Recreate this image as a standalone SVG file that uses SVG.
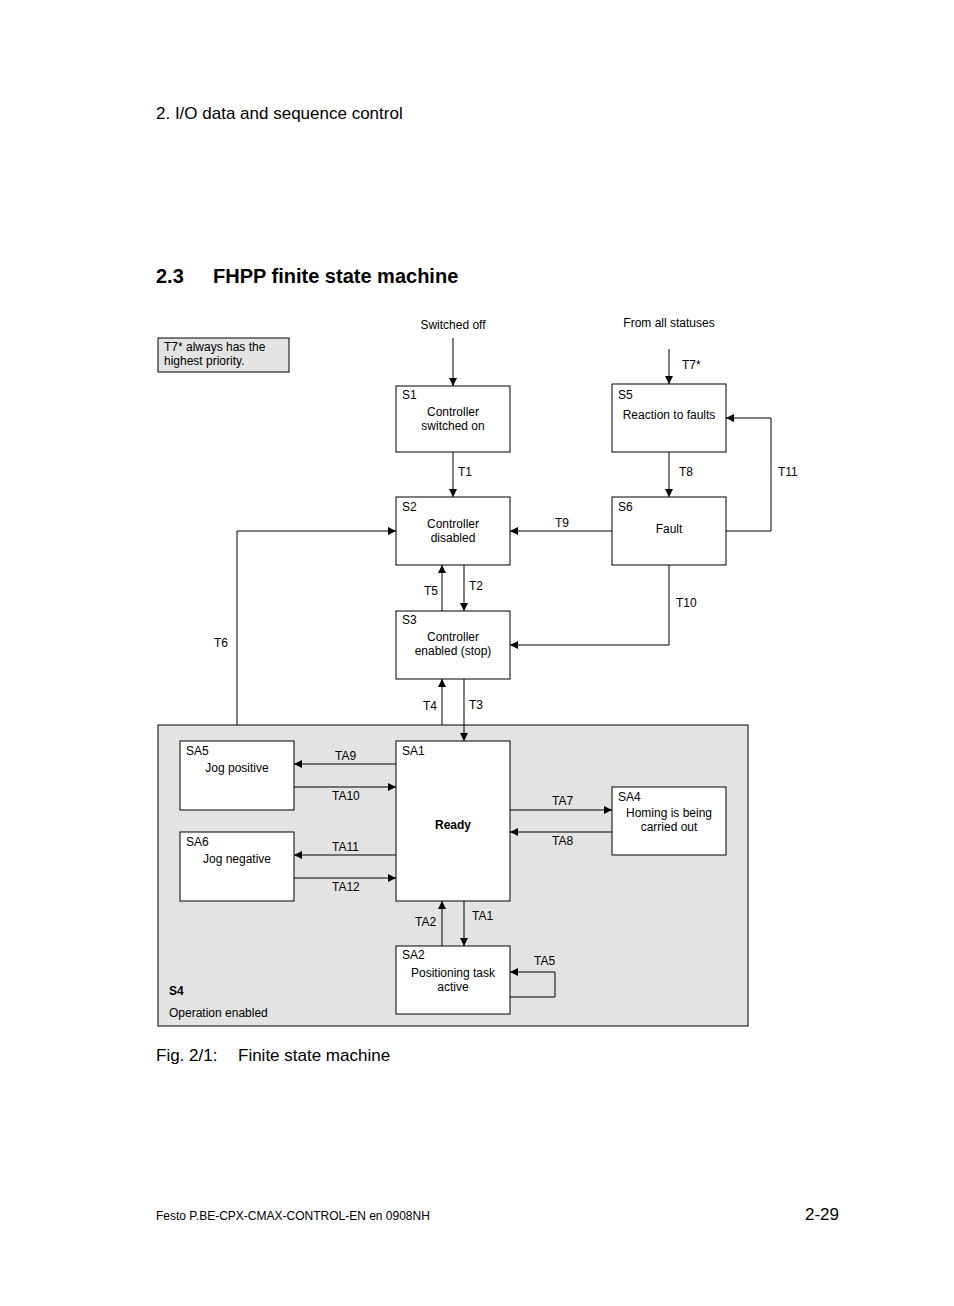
<svg xmlns="http://www.w3.org/2000/svg" width="954" height="1306" viewBox="0 0 954 1306">
<defs>
<marker id="a" viewBox="0 0 10 10" refX="10" refY="5" markerWidth="8" markerHeight="8" markerUnits="userSpaceOnUse" orient="auto"><path d="M0,0L10,5L0,10z" fill="#000"/></marker>
<style>
text{font-family:"Liberation Sans",Arial,sans-serif;font-size:12px;fill:#000}
.c{text-anchor:middle}
.n rect{fill:#fff;stroke:#000;stroke-width:1}
#connectors path{fill:none;stroke:#000;stroke-width:1;marker-end:url(#a)}
</style>
</defs>
<rect width="954" height="1306" fill="#fff"/>
<text x="156" y="119" style="font-size:17px">2.  I/O data and sequence control</text>
<text x="156" y="283" style="font-size:20px;font-weight:bold">2.3</text>
<text x="213" y="283" style="font-size:20px;font-weight:bold">FHPP finite state machine</text>
<g id="note"><rect x="158" y="338" width="131" height="34" fill="#e3e3e3" stroke="#000"/><text x="164" y="351">T7* always has the</text><text x="164" y="365">highest priority.</text></g>
<g id="S4" class="n"><rect x="158" y="725" width="590" height="301" style="fill:#e3e3e3"/><text x="169" y="995" style="font-weight:bold">S4</text><text x="169" y="1017">Operation enabled</text></g>
<text class="c" x="453" y="329">Switched off</text>
<text class="c" x="669" y="327">From all statuses</text>
<g id="S1" class="n"><rect x="396" y="386" width="114" height="66"/><text x="402" y="399">S1</text><text class="c" x="453" y="416">Controller</text><text class="c" x="453" y="430">switched on</text></g>
<g id="S5" class="n"><rect x="612" y="384" width="114" height="68"/><text x="618" y="399">S5</text><text class="c" x="669" y="419">Reaction to faults</text></g>
<g id="S2" class="n"><rect x="396" y="497" width="114" height="68"/><text x="402" y="511">S2</text><text class="c" x="453" y="528">Controller</text><text class="c" x="453" y="542">disabled</text></g>
<g id="S6" class="n"><rect x="612" y="497" width="114" height="68"/><text x="618" y="511">S6</text><text class="c" x="669" y="533">Fault</text></g>
<g id="S3" class="n"><rect x="396" y="611" width="114" height="68"/><text x="402" y="624">S3</text><text class="c" x="453" y="641">Controller</text><text class="c" x="453" y="655">enabled (stop)</text></g>
<g id="SA5" class="n"><rect x="180" y="741" width="114" height="69"/><text x="186" y="755">SA5</text><text class="c" x="237" y="772">Jog positive</text></g>
<g id="SA6" class="n"><rect x="180" y="832" width="114" height="69"/><text x="186" y="846">SA6</text><text class="c" x="237" y="863">Jog negative</text></g>
<g id="SA1" class="n"><rect x="396" y="741" width="114" height="160"/><text x="402" y="755">SA1</text><text class="c" x="453" y="829" style="font-weight:bold">Ready</text></g>
<g id="SA4" class="n"><rect x="612" y="787" width="114" height="68"/><text x="618" y="801">SA4</text><text class="c" x="669" y="817">Homing is being</text><text class="c" x="669" y="831">carried out</text></g>
<g id="SA2" class="n"><rect x="396" y="946" width="114" height="68"/><text x="402" y="959">SA2</text><text class="c" x="453" y="977">Positioning task</text><text class="c" x="453" y="991">active</text></g>
<g id="connectors">
<path d="M453,338V386"/><path d="M669,349V384"/>
<path d="M453,452V497"/><path d="M669,452V497"/>
<path d="M726,531H771V418H726"/>
<path d="M612,531H510"/>
<path d="M237,725V531H396"/>
<path d="M442,611V565"/><path d="M464,565V611"/>
<path d="M669,565V645H510"/>
<path d="M442,725V679"/><path d="M464,679V741"/>
<path d="M396,764H294"/><path d="M294,787H396"/>
<path d="M396,855H294"/><path d="M294,878H396"/>
<path d="M510,810H612"/><path d="M612,832H510"/>
<path d="M442,946V901"/><path d="M464,901V946"/>
<path d="M510,997H555V972H510"/>
</g>
<g id="labels">
<text x="682" y="369">T7*</text><text x="458" y="476">T1</text><text x="679" y="476">T8</text><text x="778" y="476">T11</text>
<text x="555" y="527">T9</text><text x="214" y="647">T6</text><text x="424" y="595">T5</text><text x="469" y="590">T2</text>
<text x="676" y="607">T10</text><text x="423" y="710">T4</text><text x="469" y="709">T3</text>
<text x="335" y="760">TA9</text><text x="332" y="800">TA10</text><text x="332" y="851">TA11</text><text x="332" y="891">TA12</text>
<text x="552" y="805">TA7</text><text x="552" y="845">TA8</text><text x="415" y="926">TA2</text><text x="472" y="920">TA1</text><text x="534" y="965">TA5</text>
</g>
<text x="156" y="1061" style="font-size:17px">Fig. 2/1:</text><text x="238" y="1061" style="font-size:17px">Finite state machine</text>
<text x="156" y="1220">Festo P.BE-CPX-CMAX-CONTROL-EN  en 0908NH</text>
<text x="839" y="1220" style="font-size:17px;text-anchor:end">2-29</text>
</svg>
